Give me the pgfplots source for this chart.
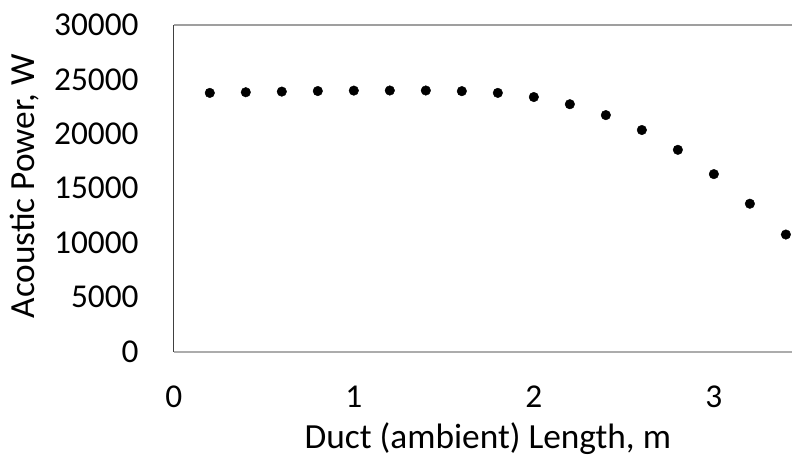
\documentclass[border=0pt]{standalone}
\usepackage{pgfplots}
\pgfplotsset{compat=1.18}
\usepackage{fontspec}
\setmainfont{Carlito}
\begin{document}
\begin{tikzpicture}
\begin{axis}[
  scale only axis,
  width=619bp, height=327bp,
  xmin=0, xmax=3.434, ymin=0, ymax=30000,
  xtick={0,1,2,3}, ytick={0,5000,10000,15000,20000,25000,30000},
  major tick length=0pt,
  axis line style={draw=none},
  font=\fontsize{33.5}{40}\selectfont,
  /pgf/number format/assume math mode=true,
  scaled y ticks=false,
  yticklabel style={/pgf/number format/1000 sep={}, anchor=east, inner sep=0pt, xshift=-35bp},
  xticklabel style={anchor=center, inner sep=0pt, yshift=-45bp},
  xlabel={Duct (ambient) Length, m},
  xlabel style={font=\fontsize{35.5}{42}\selectfont, at={(axis description cs:0.5,0)}, anchor=base, inner sep=0pt, yshift=-97bp, xshift=5bp},
  ylabel={Acoustic Power, W},
  ylabel style={font=\fontsize{35.5}{42}\selectfont, at={(axis description cs:0,0.5)}, anchor=base, inner sep=0pt, yshift=139bp, xshift=2bp},
  clip=false,
]
\addplot[only marks, mark=*, mark size=4.8bp, black] coordinates {
(0.2,23760) (0.4,23820) (0.6,23880) (0.8,23930) (1.0,23970) (1.2,23980) (1.4,23980) (1.6,23920) (1.8,23760)
(2.0,23380) (2.2,22720) (2.4,21720) (2.6,20350) (2.8,18530) (3.0,16300) (3.2,13580) (3.4,10750)
};
\draw[gray!75, line width=1.3bp] (rel axis cs:0,1) -- (rel axis cs:1,1);
\draw[black!75, line width=0.8bp] (rel axis cs:0,0) -- (rel axis cs:0,1);
\draw[gray!65, line width=2bp] (rel axis cs:0,0) -- (rel axis cs:1,0);
\end{axis}
\useasboundingbox (current axis.south west) ++(-174bp,-107bp) rectangle ++(793bp,459bp);
\end{tikzpicture}
\end{document}
